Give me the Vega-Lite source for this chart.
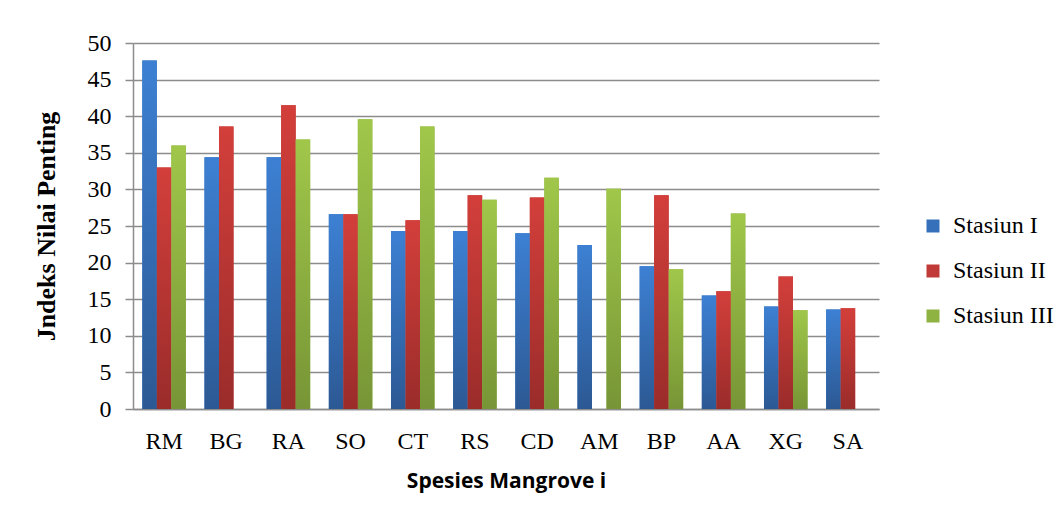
{
  "$schema": "https://vega.github.io/schema/vega-lite/v6.json",
  "width": 746,
  "height": 366,
  "autosize": {"type": "none"},
  "padding": {"left": 133, "top": 43, "right": 181, "bottom": 112},
  "background": "white",
  "config": {
    "font": "Liberation Serif",
    "view": {"stroke": null},
    "axis": {"gridColor": "#8c8c8c", "gridWidth": 1.5, "domainColor": "#8c8c8c", "domainWidth": 1.5, "tickColor": "#8c8c8c", "tickWidth": 1.5},
    "legend": {"labelFont": "Liberation Serif"}
  },
  "data": {
    "values": [
      {"sp": "RM", "st": "Stasiun I", "v": 47.6},
      {"sp": "RM", "st": "Stasiun II", "v": 33.0},
      {"sp": "RM", "st": "Stasiun III", "v": 36.0},
      {"sp": "BG", "st": "Stasiun I", "v": 34.4},
      {"sp": "BG", "st": "Stasiun II", "v": 38.6},
      {"sp": "RA", "st": "Stasiun I", "v": 34.4},
      {"sp": "RA", "st": "Stasiun II", "v": 41.5},
      {"sp": "RA", "st": "Stasiun III", "v": 36.8},
      {"sp": "SO", "st": "Stasiun I", "v": 26.6},
      {"sp": "SO", "st": "Stasiun II", "v": 26.6},
      {"sp": "SO", "st": "Stasiun III", "v": 39.6},
      {"sp": "CT", "st": "Stasiun I", "v": 24.3},
      {"sp": "CT", "st": "Stasiun II", "v": 25.8},
      {"sp": "CT", "st": "Stasiun III", "v": 38.6},
      {"sp": "RS", "st": "Stasiun I", "v": 24.3},
      {"sp": "RS", "st": "Stasiun II", "v": 29.2},
      {"sp": "RS", "st": "Stasiun III", "v": 28.6},
      {"sp": "CD", "st": "Stasiun I", "v": 24.0},
      {"sp": "CD", "st": "Stasiun II", "v": 28.9},
      {"sp": "CD", "st": "Stasiun III", "v": 31.6},
      {"sp": "AM", "st": "Stasiun I", "v": 22.4},
      {"sp": "AM", "st": "Stasiun III", "v": 30.1},
      {"sp": "BP", "st": "Stasiun I", "v": 19.5},
      {"sp": "BP", "st": "Stasiun II", "v": 29.2},
      {"sp": "BP", "st": "Stasiun III", "v": 19.1},
      {"sp": "AA", "st": "Stasiun I", "v": 15.5},
      {"sp": "AA", "st": "Stasiun II", "v": 16.1},
      {"sp": "AA", "st": "Stasiun III", "v": 26.7},
      {"sp": "XG", "st": "Stasiun I", "v": 14.0},
      {"sp": "XG", "st": "Stasiun II", "v": 18.1},
      {"sp": "XG", "st": "Stasiun III", "v": 13.5},
      {"sp": "SA", "st": "Stasiun I", "v": 13.6},
      {"sp": "SA", "st": "Stasiun II", "v": 13.75}
    ]
  },
  "encoding": {
    "x": {
      "field": "sp", "type": "nominal", "sort": null,
      "scale": {"paddingInner": 0.3, "paddingOuter": 0.15},
      "axis": {
        "title": "Spesies Mangrove i", "labelAngle": 0, "ticks": false, "grid": false,
        "labelFont": "Liberation Serif", "labelFontSize": 24, "labelColor": "black", "labelPadding": 20,
        "titleFont": "Open Sans", "titleFontSize": 21, "titleFontWeight": "bold", "titleColor": "black", "titlePadding": 17
      }
    },
    "xOffset": {"field": "st", "type": "nominal", "scale": {"domain": ["Stasiun I", "Stasiun II", "Stasiun III"], "paddingInner": 0}},
    "y": {
      "field": "v", "type": "quantitative",
      "scale": {"domain": [0, 50], "nice": false},
      "axis": {
        "title": "Jndeks Nilai Penting", "values": [0, 5, 10, 15, 20, 25, 30, 35, 40, 45, 50],
        "tickSize": 8, "labelPadding": 14,
        "labelFont": "Liberation Serif", "labelFontSize": 24, "labelColor": "black",
        "titleFont": "Liberation Serif", "titleFontSize": 26, "titleFontWeight": "bold", "titleColor": "black", "titlePadding": 28
      }
    }
  },
  "layer": [
    {
      "mark": {"type": "bar"},
      "encoding": {
        "color": {
          "field": "st", "type": "nominal",
          "scale": {"domain": ["Stasiun I", "Stasiun II", "Stasiun III"], "range": ["#3670bb", "#c03a37", "#8fb342"]},
          "legend": {
            "title": null, "orient": "none", "legendX": 788, "legendY": 171,
            "symbolType": "square", "symbolSize": 169, "symbolStrokeWidth": 0,
            "labelFont": "Liberation Serif", "labelFontSize": 24, "labelColor": "black",
            "labelOffset": 8, "rowPadding": 21
          }
        }
      }
    },
    {
      "transform": [{"filter": "datum.st === 'Stasiun I'"}],
      "mark": {"type": "bar", "fill": {"gradient": "linear", "x1": 0, "y1": 0, "x2": 0, "y2": 1, "stops": [{"offset": 0, "color": "#3d80d3"}, {"offset": 1, "color": "#2c5994"}]}}
    },
    {
      "transform": [{"filter": "datum.st === 'Stasiun II'"}],
      "mark": {"type": "bar", "fill": {"gradient": "linear", "x1": 0, "y1": 0, "x2": 0, "y2": 1, "stops": [{"offset": 0, "color": "#d33f3b"}, {"offset": 1, "color": "#9a2c2a"}]}}
    },
    {
      "transform": [{"filter": "datum.st === 'Stasiun III'"}],
      "mark": {"type": "bar", "fill": {"gradient": "linear", "x1": 0, "y1": 0, "x2": 0, "y2": 1, "stops": [{"offset": 0, "color": "#a0c74a"}, {"offset": 1, "color": "#779536"}]}}
    }
  ]
}
